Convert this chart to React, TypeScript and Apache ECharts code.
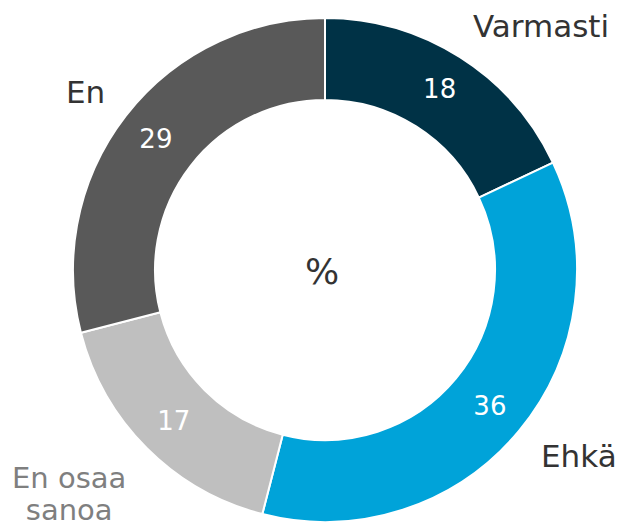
import React, { useEffect, useRef } from "react";
import * as echarts from "echarts";

const categories = ["Varmasti", "Ehkä", "En osaa sanoa", "En"];
const values = [18, 36, 17, 29];
const colors = ["#003246", "#00a3d9", "#bfbfbf", "#595959"];
const centerLabel = "%";

export default function App() {
  const ref = useRef<HTMLDivElement>(null);
  useEffect(() => {
    if (!ref.current) return;
    const chart = echarts.init(ref.current, undefined, { renderer: "svg" });
    const font = "'DejaVu Sans', Verdana, sans-serif";
    chart.setOption({
      animation: false,
      backgroundColor: "#ffffff",
      graphic: [
        { type: "text", left: 473, top: 10, style: { text: categories[0], font: `31px ${font}`, fill: "#333333" } },
        { type: "text", left: 541, top: 440, style: { text: categories[1], font: `31px ${font}`, fill: "#333333" } },
        { type: "text", left: 12, top: 462, style: { text: "En osaa\nsanoa", font: `29px ${font}`, fill: "#7f7f7f", textAlign: "center", lineHeight: 32 } },
        { type: "text", left: 66, top: 76, style: { text: categories[3], font: `31px ${font}`, fill: "#333333" } },
        { type: "text", left: 305, top: 253, style: { text: centerLabel, font: `36px ${font}`, fill: "#333333" } },
      ],
      series: [
        {
          type: "pie",
          center: [325, 270],
          radius: [170, 252],
          startAngle: 90,
          clockwise: true,
          avoidLabelOverlap: false,
          itemStyle: { borderColor: "#ffffff", borderWidth: 2 },
          label: {
            show: true,
            position: "inside",
            formatter: "{c}",
            color: "#ffffff",
            fontSize: 26,
            fontFamily: font,
          },
          labelLine: { show: false },
          emphasis: { disabled: true },
          data: categories.map((name, i) => ({ name, value: values[i], itemStyle: { color: colors[i] } })),
        },
      ],
    });
    return () => chart.dispose();
  }, []);
  return <div ref={ref} style={{ position: "fixed", left: 0, top: 0, width: 626, height: 528 }} />;
}
